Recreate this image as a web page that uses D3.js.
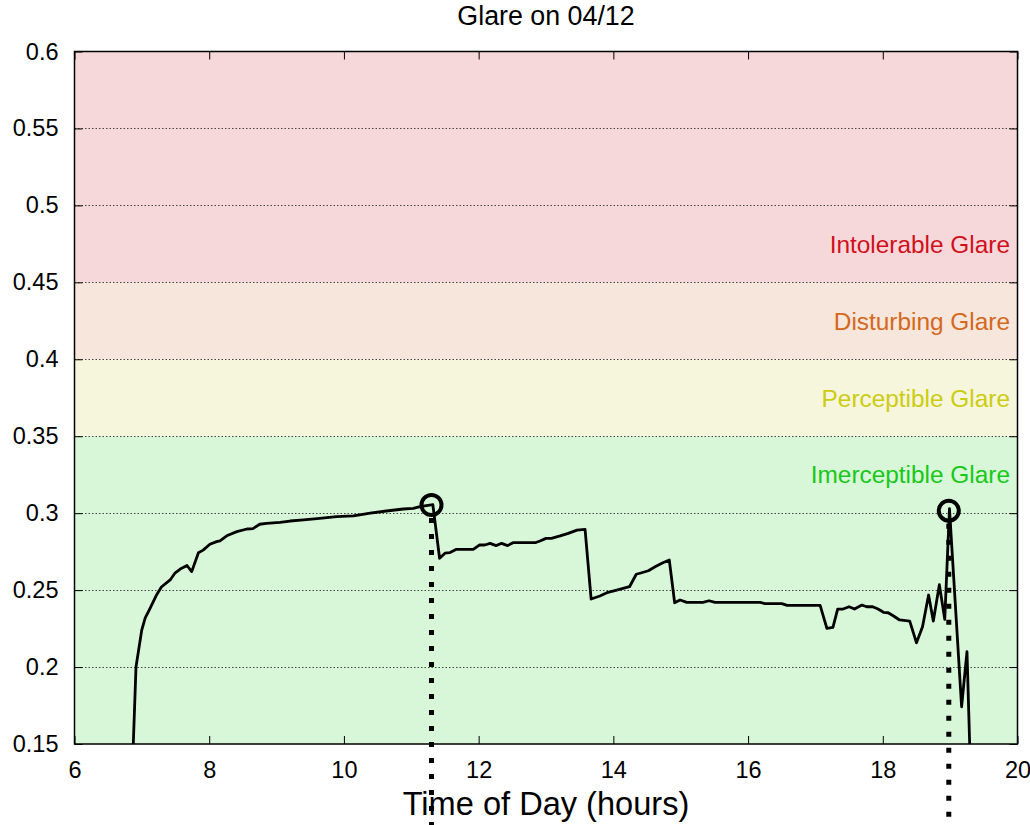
<!DOCTYPE html>
<html>
<head>
<meta charset="utf-8">
<script src="https://cdn.jsdelivr.net/npm/d3@7"></script>
<style>
  html, body { margin: 0; padding: 0; background: #fff; }
  svg { display: block; font-family: "Liberation Sans", Arial, Helvetica, sans-serif; }
</style>
</head>
<body>
<svg id="chart" width="1030" height="825"></svg>
<script>
// ---- data ----
const hours = [6.873, 6.913, 6.998, 7.05, 7.12, 7.22, 7.29, 7.42, 7.49, 7.57, 7.67, 7.74, 7.84, 7.91, 8.01, 8.11, 8.16, 8.26, 8.41, 8.56, 8.65, 8.75, 8.85, 9.05, 9.20, 9.40, 9.64, 9.89, 10.14, 10.39, 10.63, 10.88, 11.03, 11.13, 11.32,
  11.42, 11.50, 11.57, 11.67, 11.92, 12.01, 12.09, 12.17, 12.26, 12.34, 12.43, 12.51, 12.84, 12.91, 13.00, 13.08, 13.21, 13.33, 13.46, 13.58,
  13.67, 13.80, 13.92, 14.05, 14.24, 14.34, 14.42, 14.52, 14.62, 14.72, 14.83,
  14.91, 14.99, 15.09, 15.33, 15.42, 15.51, 16.18, 16.25, 16.50, 16.58, 17.07, 17.17, 17.26, 17.33, 17.41, 17.50, 17.58, 17.69, 17.76, 17.85, 17.93,
  18.01, 18.08, 18.16, 18.25, 18.40, 18.50, 18.59, 18.68, 18.75, 18.84, 18.92, 18.99, 19.17, 19.25, 19.29];
const glare = [0.150, 0.200, 0.224, 0.232, 0.238, 0.247, 0.252, 0.2566, 0.261, 0.2637, 0.266, 0.262, 0.2743, 0.276, 0.2798, 0.2815, 0.282, 0.2853, 0.288, 0.2897, 0.290, 0.2928, 0.2934, 0.294, 0.2949, 0.2956, 0.2966, 0.2977, 0.2983, 0.300, 0.3014, 0.3027, 0.3031, 0.3042, 0.3055,
  0.2707, 0.274, 0.2743, 0.2765, 0.2765, 0.2793, 0.2793, 0.2804, 0.2789, 0.2804, 0.2789, 0.2808, 0.2808, 0.2819, 0.2836, 0.2836, 0.2852, 0.2869, 0.289, 0.2895,
  0.2442, 0.2462, 0.2486, 0.250, 0.2522, 0.2603, 0.2613, 0.2626, 0.2652, 0.2674, 0.2696,
  0.2418, 0.2436, 0.242, 0.242, 0.2431, 0.242, 0.242, 0.2412, 0.2412, 0.2401, 0.2401, 0.2252, 0.2258, 0.2377, 0.2377, 0.2392, 0.2377, 0.2403, 0.2392, 0.2392, 0.2377,
  0.2356, 0.2353, 0.2332, 0.2306, 0.2299, 0.2158, 0.2262, 0.2468, 0.2299, 0.2535, 0.2310, 0.3030, 0.1742, 0.2100, 0.1500];

const peakHours = [11.30, 18.98];
const peakGlare = [0.3053, 0.3016];

const bandNames = ["Imerceptible Glare", "Perceptible Glare", "Disturbing Glare", "Intolerable Glare"];
const bandLow = [0.15, 0.35, 0.40, 0.45];
const bandHigh = [0.35, 0.40, 0.45, 0.60];
const bandLabelAt = [0.325, 0.375, 0.425, 0.475];
const bandFill = ["#d8f6d8", "#f6f6dc", "#f6e6dc", "#f6d8da"];
const bandText = ["#18c818", "#cccc10", "#d4681c", "#d0101c"];

const xTicks = [6, 8, 10, 12, 14, 16, 18, 20];
const yTicks = [0.15, 0.2, 0.25, 0.3, 0.35, 0.4, 0.45, 0.5, 0.55, 0.6];
const yTickLabels = ["0.15", "0.2", "0.25", "0.3", "0.35", "0.4", "0.45", "0.5", "0.55", "0.6"];

const title = "Glare on 04/12";
const xLabel = "Time of Day (hours)";

// ---- layout ----
const L = 74.5, R = 1017.5, T = 51.5, B = 744;
const svg = d3.select("#chart");
const x = d3.scaleLinear().domain([6, 20]).range([L, R]);
const y = d3.scaleLinear().domain([0.15, 0.6]).range([B, T]);

// bands
svg.append("g").selectAll("rect").data(bandLow).join("rect")
  .attr("x", L).attr("width", R - L)
  .attr("y", (d, i) => y(bandHigh[i]))
  .attr("height", (d, i) => y(d) - y(bandHigh[i]))
  .attr("fill", (d, i) => bandFill[i]);

// grid lines
svg.append("g").selectAll("line").data(yTicks.filter(v => v > 0.15 && v < 0.6)).join("line")
  .attr("x1", L).attr("x2", R)
  .attr("y1", d => Math.round(y(d)) + 0.5).attr("y2", d => Math.round(y(d)) + 0.5)
  .attr("stroke", "#444").attr("stroke-width", 1).attr("stroke-dasharray", "1.5,2");

// axes (ticks inward)
const yAxisL = d3.axisLeft(y).tickValues(yTicks).tickFormat((d, i) => yTickLabels[i]).tickSize(-8).tickPadding(16);
const gy = svg.append("g").attr("transform", `translate(${L},0)`).call(yAxisL);
gy.select(".domain").remove();
gy.selectAll("text").attr("font-size", 23.5).attr("fill", "#000").attr("font-family", "Liberation Sans, Arial, sans-serif");
gy.selectAll("line").attr("stroke", "#000");

const gyr = svg.append("g").attr("transform", `translate(${R},0)`).call(d3.axisRight(y).tickValues(yTicks).tickSize(-8).tickFormat(""));
gyr.select(".domain").remove();
gyr.selectAll("line").attr("stroke", "#000");

const gx = svg.append("g").attr("transform", `translate(0,${B})`).call(d3.axisBottom(x).tickValues(xTicks).tickFormat(d3.format("d")).tickSize(-8).tickPadding(17));
gx.select(".domain").remove();
gx.selectAll("text").attr("font-size", 23.5).attr("fill", "#000").attr("dy", "0.71em").attr("font-family", "Liberation Sans, Arial, sans-serif");
gx.selectAll("line").attr("stroke", "#000");

const gxt = svg.append("g").attr("transform", `translate(0,${T})`).call(d3.axisTop(x).tickValues(xTicks).tickSize(-8).tickFormat(""));
gxt.select(".domain").remove();
gxt.selectAll("line").attr("stroke", "#000");

// band labels
svg.append("g").selectAll("text").data(bandNames).join("text")
  .attr("x", 1010).attr("y", (d, i) => y(bandLabelAt[i]))
  .attr("dy", "0.36em")
  .attr("text-anchor", "end").attr("font-size", 24.4)
  .attr("fill", (d, i) => bandText[i])
  .text(d => d);

// frame
svg.append("rect").attr("x", L).attr("y", T).attr("width", R - L).attr("height", B - T)
  .attr("fill", "none").attr("stroke", "#000").attr("stroke-width", 1.5);

// data line
svg.append("defs").append("clipPath").attr("id", "clip")
  .append("rect").attr("x", L).attr("y", T).attr("width", R - L).attr("height", B - T);
const line = d3.line().x((d, i) => x(hours[i])).y(d => y(d));
svg.append("path").datum(glare).attr("clip-path", "url(#clip)")
  .attr("d", line).attr("fill", "none").attr("stroke", "#000")
  .attr("stroke-width", 2.8).attr("stroke-linejoin", "round");

// peak markers with dotted drop lines
svg.append("g").selectAll("line").data(peakHours).join("line")
  .attr("x1", d => x(d)).attr("x2", d => x(d))
  .attr("y1", (d, i) => y(peakGlare[i]) + 13).attr("y2", 840)
  .attr("stroke", "#000").attr("stroke-width", 5).attr("stroke-dasharray", "5,11");
svg.append("g").selectAll("circle").data(peakHours).join("circle")
  .attr("cx", d => x(d)).attr("cy", (d, i) => y(peakGlare[i]))
  .attr("r", 10).attr("fill", "none").attr("stroke", "#000").attr("stroke-width", 4);

// title and axis label
svg.append("text").attr("x", (L + R) / 2).attr("y", 25).attr("text-anchor", "middle")
  .attr("font-size", 26.8).attr("fill", "#000").text(title);
svg.append("text").attr("x", (L + R) / 2).attr("y", 815).attr("text-anchor", "middle")
  .attr("font-size", 32.6).attr("fill", "#000").text(xLabel);
</script>
</body>
</html>
